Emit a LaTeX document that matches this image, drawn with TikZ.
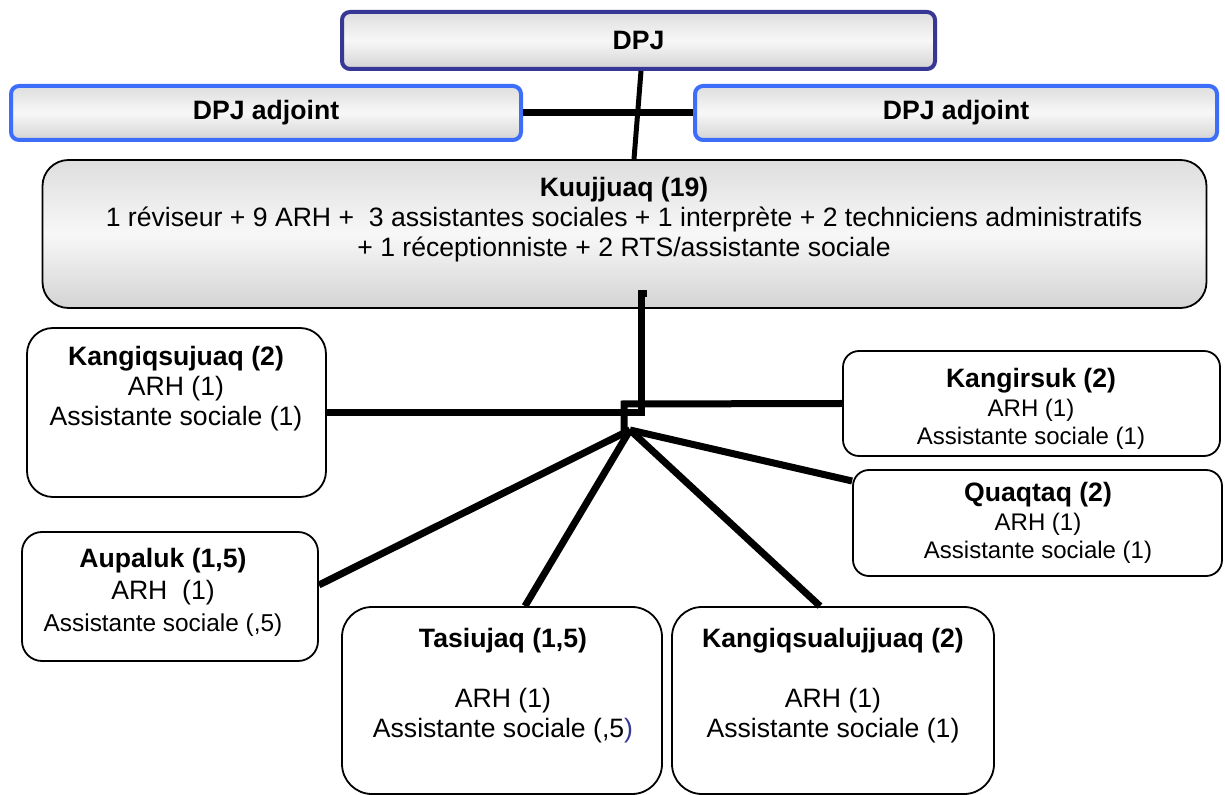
\documentclass[tikz,border=0pt]{standalone}
\usepackage{fontspec}
\setmainfont{Liberation Sans}
\usetikzlibrary{positioning}

\definecolor{dpjblue}{RGB}{55,55,150}
\definecolor{adjblue}{RGB}{60,110,250}
\newcommand{\orgsize}{\fontsize{13.3}{15}\selectfont}
\newcommand{\subsize}{\fontsize{12}{14.2}\selectfont}
\newcommand{\aupsize}{\fontsize{12.2}{16}\selectfont}

\begin{document}
\begin{tikzpicture}[x=0.5pt,y=-0.5pt,
    box/.style={draw, rounded corners=#1, fill=white, line width=0.9pt, inner sep=0pt},
    box/.default=12pt,
    grayfill/.style={top color=black!13, bottom color=black!17, middle color=black!3},
    head/.style={box=4pt, grayfill, line width=2pt, font=\orgsize\bfseries},
    txt/.style={align=center, font=\orgsize, inner sep=0pt},
    link/.style={line width=3.5pt, line join=miter}]
\useasboundingbox (0,0) rectangle (1225,795);

% direction
\node[head, draw=dpjblue, minimum width=296.5pt, minimum height=28.5pt] (dpj) at (638.5,40.5) {DPJ};
\node[head, draw=adjblue, minimum width=255pt, minimum height=27pt] (adj_l) at (266,113) {DPJ adjoint};
\node[head, draw=adjblue, minimum width=261pt, minimum height=27pt] (adj_r) at (956,113) {DPJ adjoint};

% Kuujjuaq
\node[box=13pt, grayfill, minimum width=582pt, minimum height=74pt] (kuujjuaq) at (624.5,234) {};
\node[txt] (t_kuujjuaq) at (624,220) {\textbf{Kuujjuaq (19)}\\
    1 réviseur + 9 ARH + \ 3 assistantes sociales + 1 interprète + 2 techniciens administratifs\\
    + 1 réceptionniste + 2 RTS/assistante sociale};

% communities
\node[box=13pt, minimum width=149.5pt, minimum height=84.5pt] (kangiqsujuaq) at (176.5,412.5) {};
\node[txt] (t_kangiqsujuaq) at (176,389) {\textbf{Kangiqsujuaq (2)}\\ ARH (1)\\ Assistante sociale (1)};

\node[box=8pt, minimum width=188.5pt, minimum height=52.5pt] (kangirsuk) at (1031.5,403.5) {};
\node[txt, font=\subsize] (t_kangirsuk) at (1031,409) {{\orgsize\bfseries Kangirsuk (2)}\\ ARH (1)\\ Assistante sociale (1)};

\node[box=8pt, minimum width=184.5pt, minimum height=53pt] (quaqtaq) at (1037.5,523) {};
\node[txt, font=\subsize] (t_quaqtaq) at (1038,523) {{\orgsize\bfseries Quaqtaq (2)}\\ ARH (1)\\ Assistante sociale (1)};

\node[box=10pt, minimum width=148pt, minimum height=64.5pt] (aupaluk) at (170,596.5) {};
\node[txt, font=\aupsize] (t_aupaluk) at (163,592) {{\orgsize\bfseries Aupaluk (1,5)}\\ {\orgsize ARH \ (1)}\\ Assistante sociale (,5)};

\node[box=15pt, minimum width=160pt, minimum height=93.5pt] (tasiujaq) at (502,700.5) {};
\node[txt] (t_tasiujaq) at (503,686) {\textbf{Tasiujaq (1,5)}\\[15pt] ARH (1)\\ Assistante sociale (,5\textcolor{dpjblue}{)}};

\node[box=15pt, minimum width=161pt, minimum height=93.5pt] (kangiqsualujjuaq) at (833,700.5) {};
\node[txt] (t_kangiqsualujjuaq) at (833,686) {\textbf{Kangiqsualujjuaq (2)}\\[15pt] ARH (1)\\ Assistante sociale (1)};

% connectors
\coordinate (drop) at (641,294);
\coordinate (knot) at (624,404);
\coordinate (hub) at (630,430);

\draw[line width=2.5pt] ([xshift=1.25pt]dpj.south) -- ([xshift=4.75pt]kuujjuaq.north);
\draw[link] (adj_l.east) -- (adj_r.west);

\draw[link] (kangiqsujuaq.east) -- (drop |- kangiqsujuaq.east) -- (drop) -- ++(6,0);
\draw[link] (kangirsuk.west) -- (knot) -- ++(0,34);
\draw[link] ([yshift=5.75pt]aupaluk.east) -- (hub);
\draw[link] ([xshift=11.5pt]tasiujaq.north) -- (hub);
\draw[link] ([xshift=-6.5pt]kangiqsualujjuaq.north) -- (hub);
\draw[link] ([yshift=21pt]quaqtaq.west) -- (hub);
\end{tikzpicture}
\end{document}
